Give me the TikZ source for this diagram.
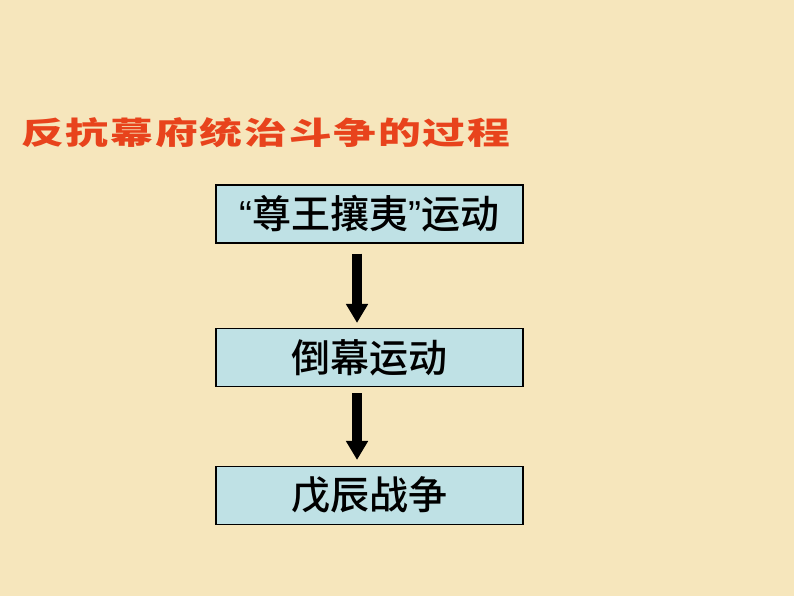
\documentclass[tikz,border=0pt]{standalone}
\usepackage{fontspec}
\usepackage{xcolor}
\usetikzlibrary{arrows.meta}
\newfontfamily\cjk{Noto Sans CJK SC Medium}
\newfontfamily\latinq{Liberation Sans}
\newfontfamily\titlecjk[FakeStretch=1.38, LetterSpace=6]{Noto Sans CJK SC}
\definecolor{paper}{HTML}{F6E6BC}
\definecolor{boxblue}{HTML}{BFE1E5}
\definecolor{titlered}{HTML}{E8431C}
\begin{document}
\begin{tikzpicture}[x=1pt, y=-1pt,
    stage/.style={draw=black, line width=1.1pt, fill=boxblue, minimum width=307pt,
      minimum height=58pt, inner sep=0pt, font=\cjk\fontsize{39}{42}\selectfont},
    flow/.style={line width=10pt, -{Triangle[width=21pt, length=19pt]}}]
                \fill[paper] (0,0) rectangle (794,596);
                \useasboundingbox (0,0) rectangle (794,596);

                \node[anchor=west, text=titlered, inner sep=0pt,
                  font=\titlecjk\bfseries\fontsize{31}{34}\selectfont] (T) at (21,133)
                  {反抗幕府统治斗争的过程};

                \node[stage] (S1) at (369.5,214) {{\latinq “}尊王攘夷{\latinq ”}运动};
                \node[stage] (S2) at (369.5,357.5) {倒幕运动};
                \node[stage] (S3) at (369.5,495.5) {戊辰战争};

                \draw[flow, shorten <=10pt, shorten >=5pt]
                  ([xshift=-12.5pt]S1.south) -- ([xshift=-12.5pt]S2.north);
                \draw[flow, shorten <=6pt, shorten >=6pt]
                  ([xshift=-12.5pt]S2.south) -- ([xshift=-12.5pt]S3.north);
            \end{tikzpicture}
\end{document}
